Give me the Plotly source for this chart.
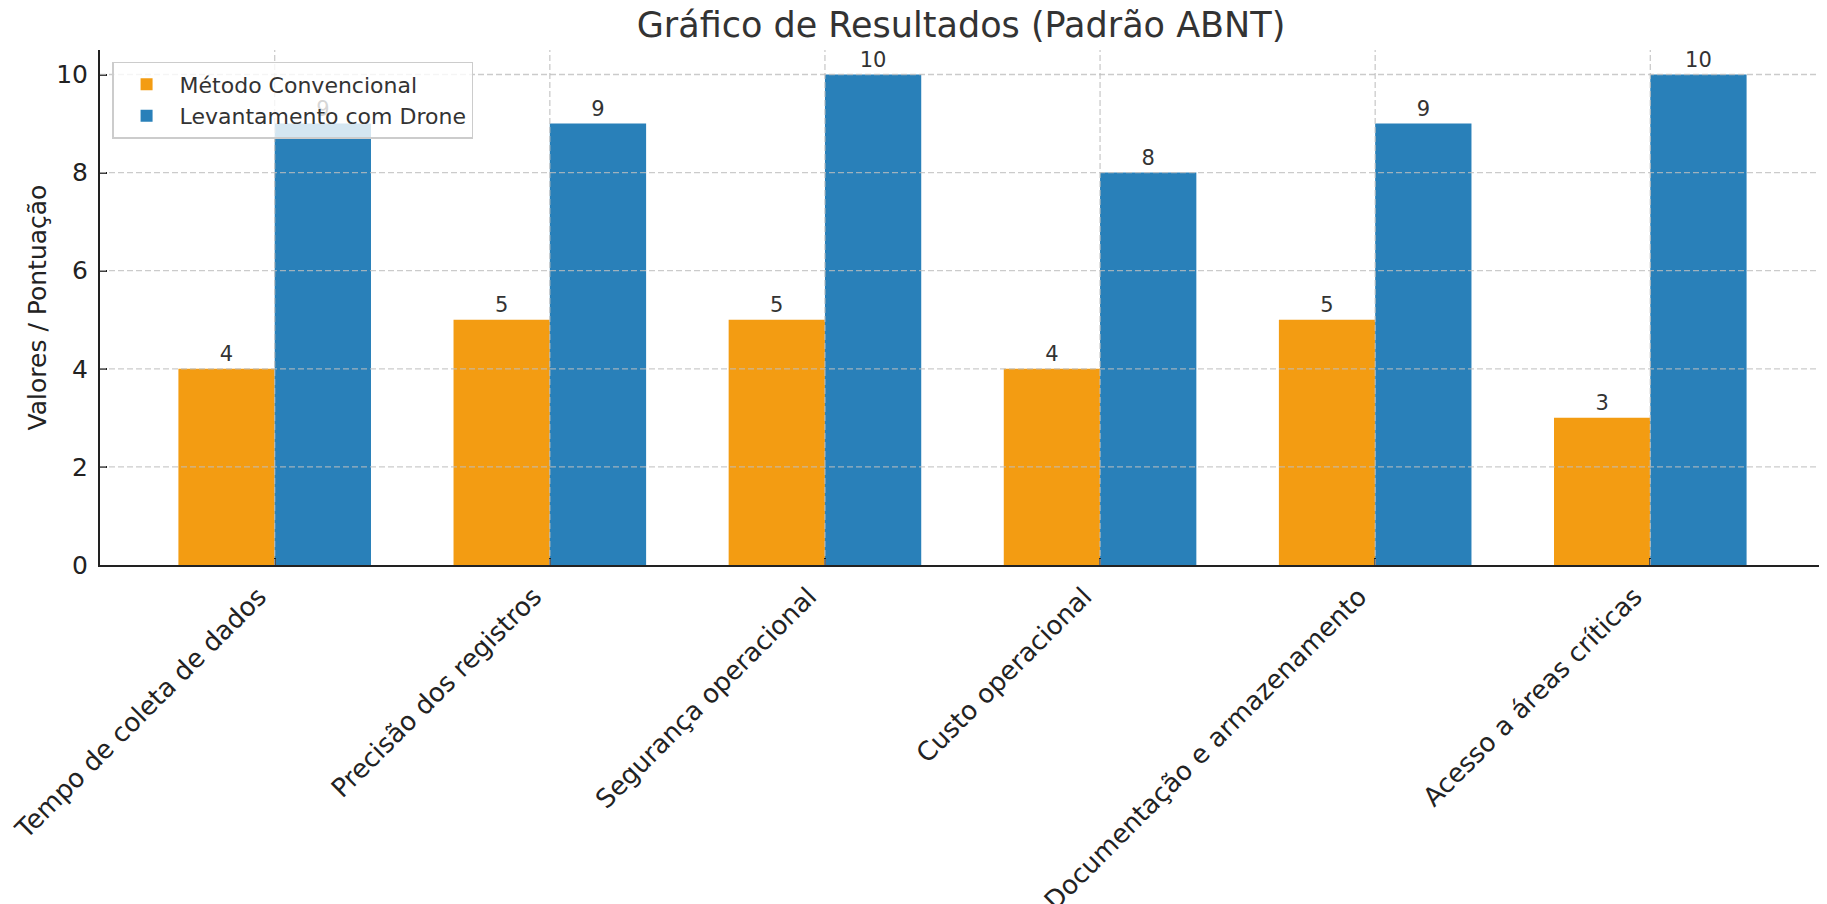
import plotly.graph_objects as go

categorias = [
    "Tempo de coleta de dados",
    "Precisão dos registros",
    "Segurança operacional",
    "Custo operacional",
    "Documentação e armazenamento",
    "Acesso a áreas críticas",
]
metodo_convencional = [4, 5, 5, 4, 5, 3]
levantamento_drone = [9, 9, 10, 8, 9, 10]
y_ticks = [0, 2, 4, 6, 8, 10]

FONT = "DejaVu Sans"
TXT = "#333333"
AX = "#222222"
GRID = "rgba(190,190,190,0.8)"

# page body has an 8px default margin -> figure sized to fit the window
W, H = 1819, 896

fig = go.Figure()
fig.add_trace(go.Bar(
    name="Método Convencional", x=categorias, y=metodo_convencional,
    marker=dict(color="#F39C12", line=dict(width=0)),
    texttemplate="%{y}", textposition="outside", cliponaxis=False,
    textfont=dict(family=FONT, size=21, color=TXT),
))
fig.add_trace(go.Bar(
    name="Levantamento com Drone", x=categorias, y=levantamento_drone,
    marker=dict(color="#2980B9", line=dict(width=0)),
    texttemplate="%{y}", textposition="outside", cliponaxis=False,
    textfont=dict(family=FONT, size=21, color=TXT),
))

# gridlines drawn above bars (as in the reference)
for v in y_ticks[1:]:
    fig.add_shape(type="line", xref="paper", yref="y", x0=0, x1=1, y0=v, y1=v,
                  line=dict(color=GRID, width=1.3, dash="6px,3px"), layer="above")
for c in categorias:
    fig.add_shape(type="line", xref="x", yref="paper", x0=c, x1=c, y0=0, y1=1,
                  line=dict(color=GRID, width=1.3, dash="6px,3px"), layer="above")

fig.update_layout(
    width=W, height=H,
    paper_bgcolor="white", plot_bgcolor="white",
    font=dict(family=FONT, color=TXT),
    barmode="group", bargap=0.3, bargroupgap=0,
    margin=dict(l=92, r=2, t=42, b=339, autoexpand=False),
    title=dict(text="Gráfico de Resultados (Padrão ABNT)", x=953 / W, xanchor="center",
               y=1 - 17 / H, yref="container", yanchor="middle", automargin=False,
               font=dict(family=FONT, size=35, color=TXT)),
    legend=dict(x=0.007, y=0.977, xanchor="left", yanchor="top", itemwidth=56,
                bgcolor="rgba(255,255,255,0.8)", bordercolor="#cccccc", borderwidth=1.5,
                font=dict(family=FONT, size=22, color=TXT)),
    showlegend=True,
)
fig.update_xaxes(
    range=[-0.635, 5.635], showgrid=False, showline=True, linecolor=AX, linewidth=2,
    ticks="inside", ticklen=7, tickwidth=1.5, tickcolor=AX, tickangle=-45, automargin=False,
    ticklabelshift=-16, ticklabelstandoff=4,
    tickfont=dict(family=FONT, size=26, color=AX),
)
fig.update_yaxes(
    range=[0, 10.5], tickvals=y_ticks, showgrid=False, zeroline=False,
    showline=True, linecolor=AX, linewidth=2, automargin=False,
    ticks="inside", ticklen=7, tickwidth=1.5, tickcolor=AX, ticklabelstandoff=5,
    tickfont=dict(family=FONT, size=25, color=AX),
    title=dict(text="Valores / Pontuação", font=dict(family=FONT, size=25, color=AX), standoff=2),
)

fig.write_html("out.html")
